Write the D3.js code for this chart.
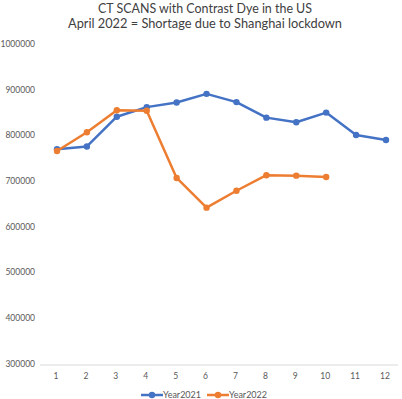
<!DOCTYPE html>
<html>
<head>
<meta charset="utf-8">
<script src="https://cdn.jsdelivr.net/npm/d3@7"></script>
<style>
  body { margin: 0; background: #fff; }
  svg { display: block; font-family: Lato, sans-serif; }
</style>
</head>
<body>
<svg id="chart" width="402" height="399"></svg>
<script>
const months = [1, 2, 3, 4, 5, 6, 7, 8, 9, 10, 11, 12]
const year2021 = [769000, 775000, 840000, 861000, 871000, 890000, 872000, 838000, 828000, 849000, 800000, 789000]
const year2022 = [765000, 806000, 854000, 853000, 706000, 641000, 678000, 712000, 711000, 708000]
const yTicks = [300000, 400000, 500000, 600000, 700000, 800000, 900000, 1000000]
const titleLines = ['CT SCANS with Contrast Dye in the US', 'April 2022 = Shortage due to Shanghai lockdown']
const titleWidths = [214, 274]

const svg = d3.select('#chart')

const xScale = d3.scalePoint().domain(months).range([57, 386])
const yScale = d3.scaleLinear().domain([300000, 1000000]).range([363.5, 43.6])

// title, squeezed to the narrow widths of the original font
svg.selectAll('.title')
  .data(titleLines)
  .enter()
  .append('text')
  .attr('class', 'title')
  .attr('x', 205)
  .attr('y', (d, i) => 12.5 + i * 15.5)
  .attr('text-anchor', 'middle')
  .attr('textLength', (d, i) => titleWidths[i])
  .attr('lengthAdjust', 'spacingAndGlyphs')
  .style('font-size', '14px')
  .style('fill', '#404040')
  .text(d => d)

// y axis labels (no axis line, no gridlines)
const yAxis = svg.append('g')
  .attr('class', 'y')
  .attr('transform', 'translate(35, 0)')
  .call(d3.axisLeft(yScale).tickValues(yTicks).tickSize(0).tickPadding(0).tickFormat(d3.format('d')))
yAxis.select('.domain').remove()
yAxis.selectAll('text').style('font-size', '8.5px').style('fill', '#595959').style('font-family', 'Lato, sans-serif')

// x axis
const xAxis = svg.append('g')
  .attr('class', 'x')
  .attr('transform', 'translate(0, 365)')
  .call(d3.axisBottom(xScale).tickSize(0).tickPadding(8))
xAxis.select('.domain').attr('d', 'M40,0H398').style('stroke', '#d9d9d9')
xAxis.selectAll('text').attr('dx', -1.5).style('font-size', '8.5px').style('fill', '#595959').style('font-family', 'Lato, sans-serif')

const series = [
  { name: 'Year2021', values: year2021, color: '#4472C4' },
  { name: 'Year2022', values: year2022, color: '#ED7D31' }
]

const line = d3.line()
  .x((d, i) => xScale(months[i]))
  .y(d => yScale(d))

series.forEach(s => {
  const g = svg.append('g').attr('class', s.name)
  g.append('path')
    .attr('d', line(s.values))
    .attr('fill', 'none')
    .attr('stroke', s.color)
    .attr('stroke-width', 2.5)
    .attr('stroke-linejoin', 'round')
  g.selectAll('circle')
    .data(s.values)
    .enter()
    .append('circle')
    .attr('cx', (d, i) => xScale(months[i]))
    .attr('cy', d => yScale(d))
    .attr('r', 3.2)
    .attr('fill', s.color)
})

// legend
const legend = svg.append('g').attr('class', 'legend')
series.forEach((s, i) => {
  const x0 = 141 + i * 66
  const item = legend.append('g').attr('transform', `translate(${x0}, 395)`)
  item.append('line').attr('x1', 0).attr('x2', 22).attr('y1', 0).attr('y2', 0)
    .attr('stroke', s.color).attr('stroke-width', 2.5)
  item.append('circle').attr('cx', 11).attr('cy', 0).attr('r', 3.2).attr('fill', s.color)
  item.append('text').attr('x', 22).attr('y', 3)
    .style('font-size', '9px').style('fill', '#595959')
    .text(s.name)
})
</script>
</body>
</html>
